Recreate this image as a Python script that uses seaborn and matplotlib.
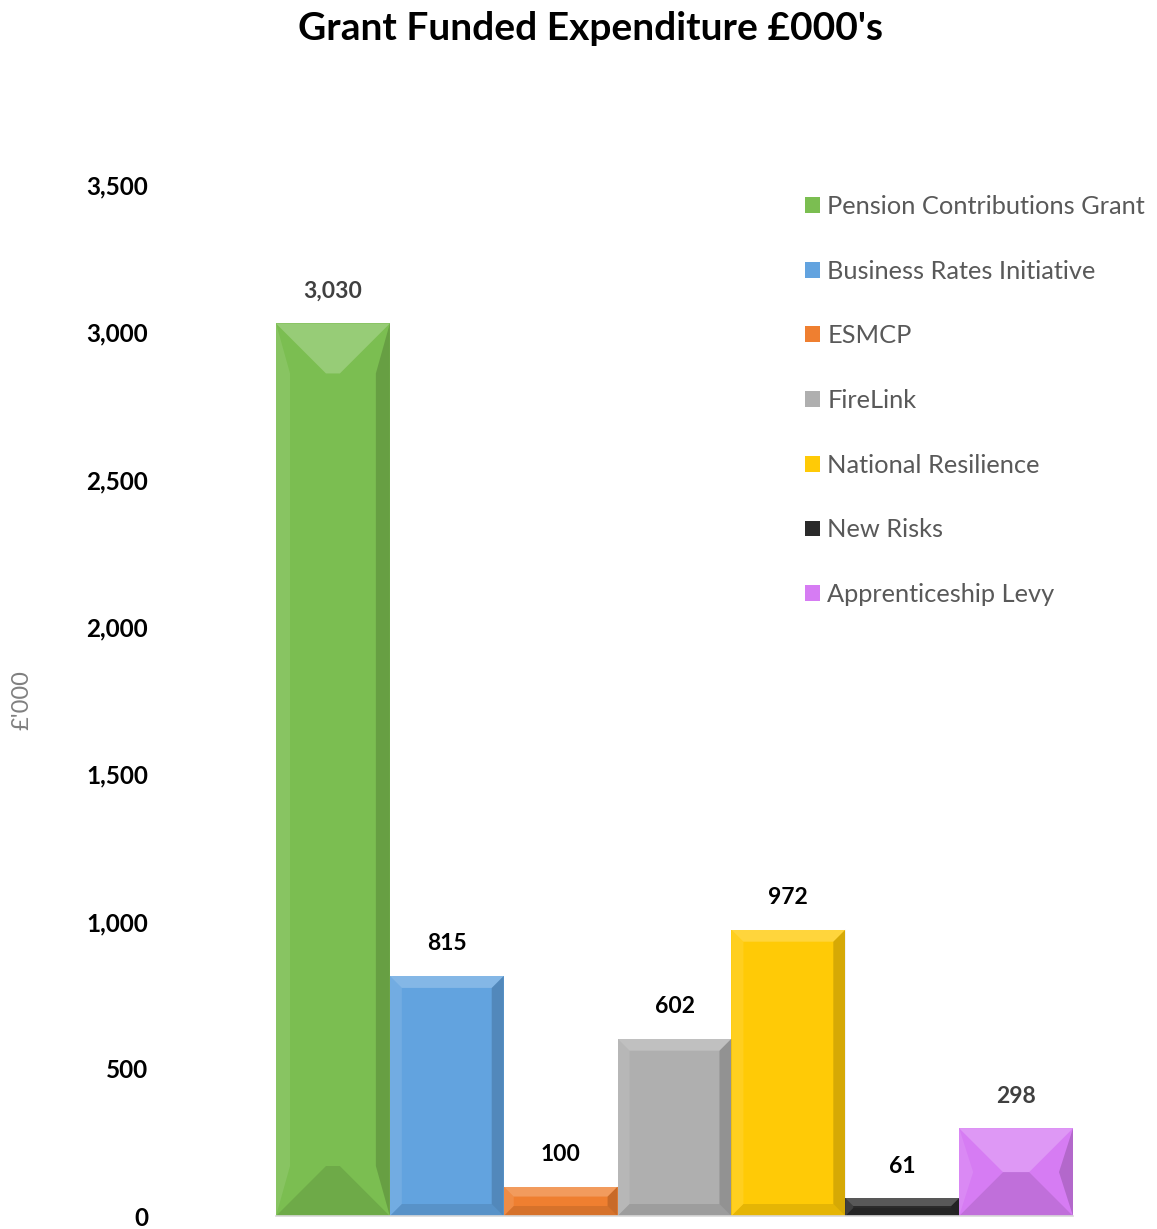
import matplotlib
matplotlib.use("Agg")
import matplotlib.pyplot as plt
from matplotlib.patches import Polygon, Patch
import seaborn as sns
import pandas as pd

# Grant funded expenditure, £000's
categories = [
    "Pension Contributions Grant",
    "Business Rates Initiative",
    "ESMCP",
    "FireLink",
    "National Resilience",
    "New Risks",
    "Apprenticeship Levy",
]
values = [3030, 815, 100, 602, 972, 61, 298]
y_ticks = [0, 500, 1000, 1500, 2000, 2500, 3000, 3500]

colors = ["#7BBE51", "#62A3DF", "#EF7F30", "#AFAFAF", "#FFCA06", "#2A2A2A", "#D67CF3"]
label_colors = ["#404040", "#000000", "#000000", "#000000", "#000000", "#000000", "#404040"]
# bevel depth of the top/bottom faces and width of the side faces, in pixels
bevel_px = [50, 12, 10, 12, 12, 8, 45]
side_px = 14

sns.set_theme(style="white")
plt.rcParams["font.family"] = ["Lato", "DejaVu Sans"]

df = pd.DataFrame({"category": categories, "value": values})

fig = plt.figure(figsize=(11.57, 12.29), dpi=100)
ax = fig.add_axes([276 / 1157, 13 / 1229, (1073 - 276) / 1157, (1216 - 185) / 1229])

sns.barplot(data=df, x="category", y="value", hue="category", palette=colors,
            width=1.0, dodge=False, legend=False, saturation=1.0, ax=ax,
            edgecolor="none", linewidth=0)

ax.set_xlim(-0.5, len(categories) - 0.5)
ax.set_ylim(0, 3500)
ax.set_yticks(y_ticks)
ax.set_yticklabels([f"{t:,}" for t in y_ticks], fontsize=17.5, fontweight="bold", color="#000000")
ax.tick_params(axis="y", length=0, pad=92)
ax.set_xticks([])
ax.set_xlabel("")
ax.set_ylabel("")
for side in ["top", "right", "left"]:
    ax.spines[side].set_visible(False)
ax.spines["bottom"].set_color("#D9D9D9")
ax.spines["bottom"].set_linewidth(1.2)

# bevelled look: light top face, soft side strips, darker bottom face
fig.canvas.draw()
to_px = ax.transData
bars = sorted(ax.patches, key=lambda p: p.get_x())
for bar, depth in zip(bars, bevel_px):
    x0, y0 = bar.get_x(), bar.get_y()
    x1, y1 = x0 + bar.get_width(), y0 + bar.get_height()
    (px0, py0), (px1, py1) = to_px.transform([(x0, y0), (x1, y1)])
    w_px, h_px = px1 - px0, py1 - py0
    ux = (x1 - x0) / w_px
    uy = (y1 - y0) / h_px if h_px > 0 else 0
    d = min(depth, w_px / 2, h_px / 2)
    s = min(side_px, d)
    dx, dy, sx = d * ux, d * uy, s * ux
    faces = [
        ([(x0, y0), (x0, y1), (x0 + sx, y1 - dy), (x0 + sx, y0 + dy)], "white", 0.10),
        ([(x1, y0), (x1, y1), (x1 - sx, y1 - dy), (x1 - sx, y0 + dy)], "black", 0.16),
        ([(x0, y1), (x1, y1), (x1 - dx, y1 - dy), (x0 + dx, y1 - dy)], "white", 0.22),
        ([(x0, y0), (x1, y0), (x1 - dx, y0 + dy), (x0 + dx, y0 + dy)], "black", 0.10),
    ]
    for pts, c, a in faces:
        ax.add_patch(Polygon(pts, closed=True, facecolor=c, alpha=a,
                             edgecolor="none", zorder=bar.get_zorder() + 0.1))

# value labels above each bar
for bar, v, lc in zip(bars, values, label_colors):
    ax.annotate(f"{v:,}", (bar.get_x() + bar.get_width() / 2, bar.get_height()),
                xytext=(0, 23), textcoords="offset points", ha="center", va="center",
                fontsize=16.5, fontweight="bold", color=lc)

handles = [Patch(facecolor=c, edgecolor="none") for c in colors]
fig.legend(handles, categories, loc="upper left",
           bbox_to_anchor=(805 / 1157, 1 - 195 / 1229), frameon=False,
           fontsize=18.3, handlelength=0.58, handleheight=0.58, handletextpad=0.3,
           labelspacing=1.64, borderaxespad=0, borderpad=0, labelcolor="#595959")

fig.text(590 / 1157, 1 - 28 / 1229, "Grant Funded Expenditure £000's",
         ha="center", va="center", fontsize=28, fontweight="bold", color="#000000")
fig.text(22 / 1157, 1 - 700 / 1229, "£'000", rotation=90, ha="center", va="center",
         fontsize=17, color="#808080")

fig.savefig("out.png", dpi=100)
